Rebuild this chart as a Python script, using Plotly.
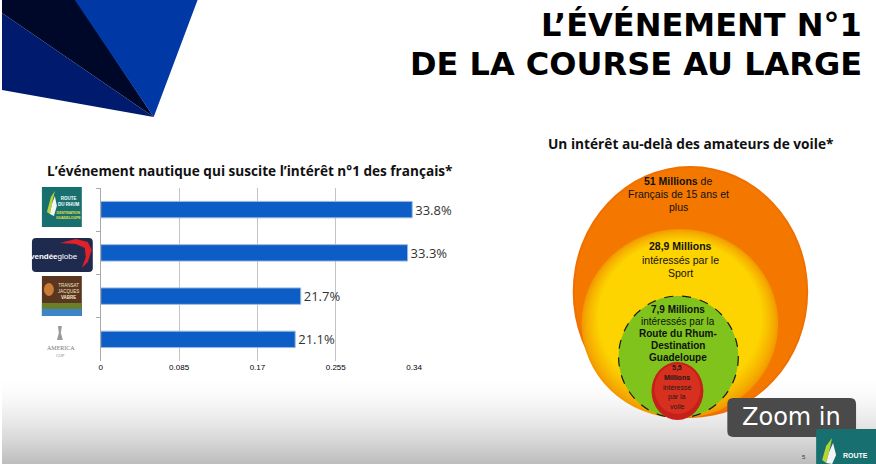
import plotly.graph_objects as go

W, H = 876, 464          # design space (pixels of the reference)
FIG_W, FIG_H = 884, 464  # rendered figure size

# ---------------- data ----------------
events = ["Route du Rhum", "Vendée Globe", "Transat Jacques Vabre", "America's Cup"]
interest = [0.338, 0.333, 0.217, 0.211]
x_tick_vals = [0, 0.085, 0.17, 0.255, 0.34]
x_tick_text = ["0", "0.085", "0.17", "0.255", "0.34"]

title_lines = ["L’ÉVÉNEMENT N°1", "DE LA COURSE AU LARGE"]
bar_title = "L’événement nautique qui suscite l’intérêt n°1 des français*"
circle_title = "Un intérêt au-delà des amateurs de voile*"
orange_lines = ["<b>51 Millions</b> de", "Français de 15 ans et", "plus"]
yellow_lines = ["<b>28,9 Millions</b>", "intéressés par le", "Sport"]
green_lines = ["<b>7,9 Millions</b>", "intéressés par la", "<b>Route du Rhum-</b>",
               "<b>Destination</b>", "<b>Guadeloupe</b>"]
red_lines = ["<b>5,5</b>", "<b>Millions</b>", "intéressé", "par la", "voile"]


def px(x):
    return x / W


def py(y):
    return 1 - y / H


def path(points, close=True):
    s = "M " + " L ".join(f"{px(x):.5f},{py(y):.5f}" for x, y in points)
    return s + (" Z" if close else "")


def rounded_rect(x0, y0, x1, y1, r):
    pts = [
        ("M", x0 + r, y0), ("L", x1 - r, y0), ("Q", x1, y0, x1, y0 + r),
        ("L", x1, y1 - r), ("Q", x1, y1, x1 - r, y1), ("L", x0 + r, y1),
        ("Q", x0, y1, x0, y1 - r), ("L", x0, y0 + r), ("Q", x0, y0, x0 + r, y0),
    ]
    out = []
    for p in pts:
        if p[0] == "Q":
            out.append(f"Q {px(p[1]):.5f},{py(p[2]):.5f} {px(p[3]):.5f},{py(p[4]):.5f}")
        else:
            out.append(f"{p[0]} {px(p[1]):.5f},{py(p[2]):.5f}")
    return " ".join(out) + " Z"


shapes = []


def rect(x0, y0, x1, y1, color, layer="above", line=None):
    shapes.append(dict(type="rect", xref="paper", yref="paper",
                       x0=px(x0), x1=px(x1), y0=py(y1), y1=py(y0),
                       fillcolor=color, line=line or dict(width=0), layer=layer))


def circ(x0, y0, x1, y1, color, line=None, layer="above"):
    shapes.append(dict(type="circle", xref="paper", yref="paper",
                       x0=px(x0), x1=px(x1), y0=py(y1), y1=py(y0),
                       fillcolor=color, line=line or dict(width=0), layer=layer))


def poly(points, color, layer="above", line=None):
    shapes.append(dict(type="path", xref="paper", yref="paper", path=path(points),
                       fillcolor=color, line=line or dict(width=0), layer=layer))


def mix(c1, c2, t):
    a = [int(c1[i:i + 2], 16) for i in (1, 3, 5)]
    b = [int(c2[i:i + 2], 16) for i in (1, 3, 5)]
    return "#" + "".join(f"{int(round(a[k] + (b[k] - a[k]) * t)):02x}" for k in range(3))


# bottom grey gradient background (strips)
g0, g1 = 378, 464
n = 43
for i in range(n):
    t = i / (n - 1)
    v = int(255 - (255 - 190) * (t ** 1.6))
    ya = g0 + (g1 - g0) * i / n
    yb = g0 + (g1 - g0) * (i + 1) / n + 0.6
    rect(0, ya, W, yb, f"rgb({v},{v},{v})", layer="below")

# top-left decorative triangles
poly([(0, 0), (74, 0), (152, 117), (0, 13)], "#00082a")
poly([(0, 13), (152, 117), (0, 90)], "#001a6e")
poly([(73, 0), (196, 0), (152, 117)], "#0038a6")

# ---- logos (left of bar chart) ----
# Route du Rhum
rect(40, 187, 80, 227, "#17706f")
poly([(45, 212), (49, 197), (53, 191), (50, 204), (48, 214)], "#b8d432")
poly([(48, 214), (50, 204), (53, 196), (55, 206), (52, 216)], "#f4f4f4")
# Vendée Globe
shapes.append(dict(type="path", xref="paper", yref="paper",
                   path=rounded_rect(30, 238, 91, 272, 4), fillcolor="#1f2b4e",
                   line=dict(width=0), layer="above"))
poly([(58, 243), (74, 239), (86, 242), (90, 250), (86, 262), (80, 268),
      (84, 257), (83, 248), (74, 244)], "#e0202a")
# Transat Jacques Vabre
rect(40, 276, 80, 316, "#5a3520")
circ(42, 283, 52, 296, "#c97c35")
rect(40, 309, 80, 316, "#3c86c8")
rect(40, 303, 80, 309, "#6a7f2a")
# America's Cup trophy (simplified)
poly([(56, 326), (60, 326), (59, 333), (61, 340), (55, 340), (57, 333)], "#9a9a9a")

# ---- nested circles ----
circ(572, 166, 808, 418, "#ef6f00")
circ(574, 168, 806, 416, "#f47800")
steps = 10
for k in range(steps):
    t = k / (steps - 1)
    d = 16 * t
    circ(581 + d, 229 + d * 0.7, 778 - d, 418 - d * 1.4, mix("#f29a00", "#fdd300", t ** 0.8))
circ(618, 296, 738, 418, "#7fc31c", line=dict(color="#1a1a1a", width=1.2, dash="dash"))
circ(651, 362, 703, 420, "#c5201a")
circ(654, 364, 700, 414, "#d8301e")

# ---- Zoom in button ----
shapes.append(dict(type="path", xref="paper", yref="paper",
                   path=rounded_rect(727, 398, 856, 437, 6), fillcolor="#4a4a4a",
                   line=dict(width=0), layer="above"))
# bottom-right logo
rect(816, 429, 876, 464, "#17706f")
poly([(822, 460), (826, 446), (832, 438), (829, 452), (826, 463)], "#b8d432")
poly([(826, 463), (829, 452), (833, 443), (836, 455), (832, 464)], "#f4f4f4")

# ---------------- figure ----------------
fig = go.Figure()
fig.add_trace(go.Bar(
    y=events, x=interest, orientation="h",
    marker=dict(color="#0c5ec6", line=dict(color="#9cb8dc", width=1)),
    text=[f"{v * 100:.1f}%" for v in interest],
    textposition="outside", cliponaxis=False, constraintext="none",
    textfont=dict(family="Open Sans", size=13, color="#333333"),
    hoverinfo="skip", showlegend=False,
))

ann = []


def text(x, y, s, size, color="#000000", family="Liberation Sans", xanchor="center",
         yanchor="middle", align="center"):
    ann.append(dict(x=px(x), y=py(y), xref="paper", yref="paper", text=s, showarrow=False,
                    xanchor=xanchor, yanchor=yanchor, align=align,
                    font=dict(size=size, color=color, family=family)))


def lines(x, y0, step, items, size, color="#000000"):
    for i, s in enumerate(items):
        text(x, y0 + i * step, s, size, color=color)


text(864, 25, f"<b>{title_lines[0]}</b>", 32, family="DejaVu Sans", xanchor="right")
text(864, 64, f"<b>{title_lines[1]}</b>", 32, family="DejaVu Sans", xanchor="right")
text(43, 170, f"<b>{bar_title}</b>", 13.6, color="#111111", family="Open Sans", xanchor="left")
text(545, 143, f"<b>{circle_title}</b>", 13.7, color="#111111", family="Open Sans", xanchor="left")

# logo texts
text(67, 201, "<b>ROUTE<br>DU RHUM</b>", 4.5, color="#ffffff")
text(67, 216, "<b>DESTINATION<br>GUADELOUPE</b>", 3.5, color="#e8e040")
text(52, 256, "<b>vendée</b>globe", 8, color="#ffffff")
text(67, 291, "TRANSAT<br>JACQUES<br><b>VABRE</b>", 4.5, color="#f2e6c8")
text(59, 348, "AMERICA", 6, color="#777777", family="Liberation Serif")
text(59, 355, "CUP", 4, color="#888888")

# circle texts
lines(678, 181, 13, orange_lines, 10.5, color="#111111")
lines(680, 246, 13.5, yellow_lines, 10.5, color="#111111")
lines(678, 309, 12, green_lines, 10, color="#111111")
lines(677, 368, 9.5, red_lines, 7, color="#1a1a1a")

# Zoom in + page
text(791, 417, "Zoom in", 24, color="#ffffff", family="DejaVu Sans")
text(855, 455, "<b>ROUTE</b>", 7, color="#ffffff")
text(804, 457, "5", 6, color="#333333")

fig.update_layout(
    width=FIG_W, height=FIG_H, autosize=False,
    margin=dict(l=0, r=0, t=0, b=0),
    paper_bgcolor="#ffffff", plot_bgcolor="rgba(0,0,0,0)",
    bargap=0.62,
    shapes=shapes, annotations=ann,
    xaxis=dict(domain=[px(99), px(413)], range=[0, 0.34], tickvals=x_tick_vals,
               ticktext=x_tick_text, showgrid=True, gridcolor="#c4c4c4", gridwidth=1,
               zeroline=False, showline=False, ticks="",
               tickfont=dict(size=8, color="#000000", family="Liberation Sans"),
               fixedrange=True),
    yaxis=dict(domain=[py(361), py(188)], categoryorder="array", categoryarray=events,
               autorange="reversed", showline=True, linecolor="#a8a8a8", linewidth=1,
               ticks="outside", tickson="boundaries", ticklen=4, tickcolor="#a8a8a8",
               showticklabels=False, showgrid=False, zeroline=False, fixedrange=True),
)

reset = ("document.documentElement.style.margin='0';document.body.style.margin='0';"
         "document.body.style.overflow='hidden';")
fig.write_html("out.html", config={"displayModeBar": False, "staticPlot": True},
               post_script="})\n;" + reset + "(function(){" + reset)
